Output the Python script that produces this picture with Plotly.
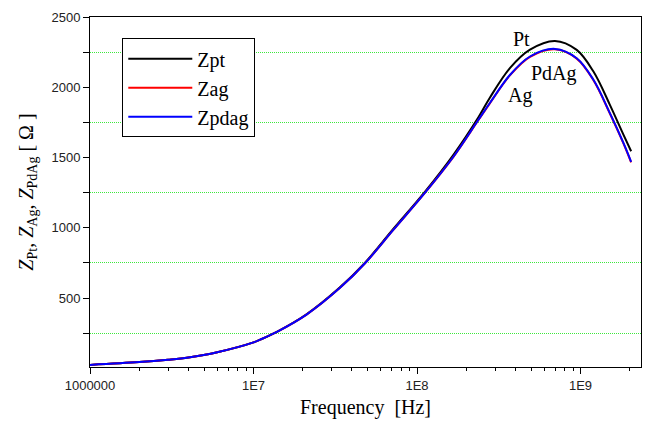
import math
import plotly.graph_objects as go

# frequencies (Hz)
freq = [1.0e6, 2.0e6, 3.0e6, 4.0e6, 6.0e6, 1.0e7, 1.1e7, 1.4e7, 2.11e7, 3.38e7, 4.81e7,
        7.16e7, 1.12e8, 1.67e8, 2.37e8, 2.79e8, 3.71e8, 4.91e8, 6.98e8, 9.48e8,
        1.2e9, 1.51e9, 1.83e9, 2.04e9]
z_pt = [25, 45, 62, 78, 115, 185, 205, 262, 385, 577, 752,
        992, 1258, 1520, 1785, 1926, 2138, 2268, 2330, 2266,
        2112, 1877, 1663, 1545]
z_pdag = [25, 45, 62, 78, 115, 185, 205, 262, 383, 573, 748,
          985, 1250, 1506, 1767, 1888, 2089, 2219, 2273, 2207,
          2053, 1818, 1604, 1470]
z_ag = [25, 45, 62, 78, 115, 185, 205, 262, 383, 573, 748,
        985, 1250, 1505, 1765, 1886, 2086, 2216, 2270, 2204,
        2050, 1815, 1601, 1466]

x_tickvals = [1e6, 1e7, 1e8, 1e9]
x_ticktext = ["1000000", "1E7", "1E8", "1E9"]
x_minor = [m * 10**d for d in range(6, 10) for m in range(2, 10) if m * 10**d < 2.4e9]
y_tickvals = [500, 1000, 1500, 2000, 2500]
y_minor = [250, 750, 1250, 1750, 2250]

labels = ["Pt", "PdAg", "Ag"]
label_freq = [4.33e8, 6.9e8, 4.27e8]
label_z = [2345, 2095, 1945]

serif = "Liberation Serif"
sans = "Liberation Sans"

fig = go.Figure()
fig.add_trace(go.Scatter(x=freq, y=z_pt, mode="lines", name="Zpt",
                         line=dict(color="black", width=2, shape="spline", smoothing=1)))
fig.add_trace(go.Scatter(x=freq, y=z_ag, mode="lines", name="Zag",
                         line=dict(color="#ff0000", width=2, shape="spline", smoothing=1)))
fig.add_trace(go.Scatter(x=freq, y=z_pdag, mode="lines", name="Zpdag",
                         line=dict(color="#0000ff", width=2, shape="spline", smoothing=1)))

for txt, xv, yv in zip(labels, label_freq, label_z):
    fig.add_annotation(x=math.log10(xv), y=yv, text=txt, showarrow=False,
                       font=dict(family=serif, size=20, color="black"))

fig.update_layout(
    width=646, height=429,
    margin=dict(l=90, r=5, t=17, b=62),
    plot_bgcolor="white", paper_bgcolor="white",
    font=dict(family=serif, size=20, color="black"),
    showlegend=True,
    legend=dict(x=0.0586, y=0.939, xanchor="left", yanchor="top",
                bordercolor="black", borderwidth=1, bgcolor="white",
                font=dict(family=serif, size=20, color="black"),
                itemwidth=64, tracegroupgap=0),
)
fig.update_xaxes(type="log", range=[6, 9.37],
                 tickvals=x_tickvals, ticktext=x_ticktext,
                 ticks="outside", ticklen=6, tickcolor="black",
                 tickfont=dict(family=sans, size=13, color="#222"),
                 showgrid=False, zeroline=False,
                 showline=True, linecolor="black", linewidth=1, mirror=True,
                 minor=dict(tickvals=x_minor, ticks="outside", ticklen=3, tickcolor="black", showgrid=False),
                 title=dict(text="Frequency  [Hz]", font=dict(family=serif, size=20, color="black"), standoff=8))
fig.update_yaxes(range=[10, 2500],
                 tickvals=y_tickvals,
                 ticks="outside", ticklen=6, tickcolor="black",
                 tickfont=dict(family=sans, size=13, color="#222"),
                 showgrid=False, zeroline=False,
                 showline=True, linecolor="black", linewidth=1, mirror=True,
                 minor=dict(tickvals=y_minor, ticks="outside", ticklen=6, tickcolor="black",
                            showgrid=True, gridcolor="#3ee83e", griddash="1px,1px", gridwidth=1),
                 title=dict(text="<i>Z</i><sub>Pt</sub>, <i>Z</i><sub>Ag</sub>, <i>Z</i><sub>PdAg</sub> [ Ω ]",
                            font=dict(family=serif, size=20, color="black"), standoff=12))

fig.write_html("out.html")
